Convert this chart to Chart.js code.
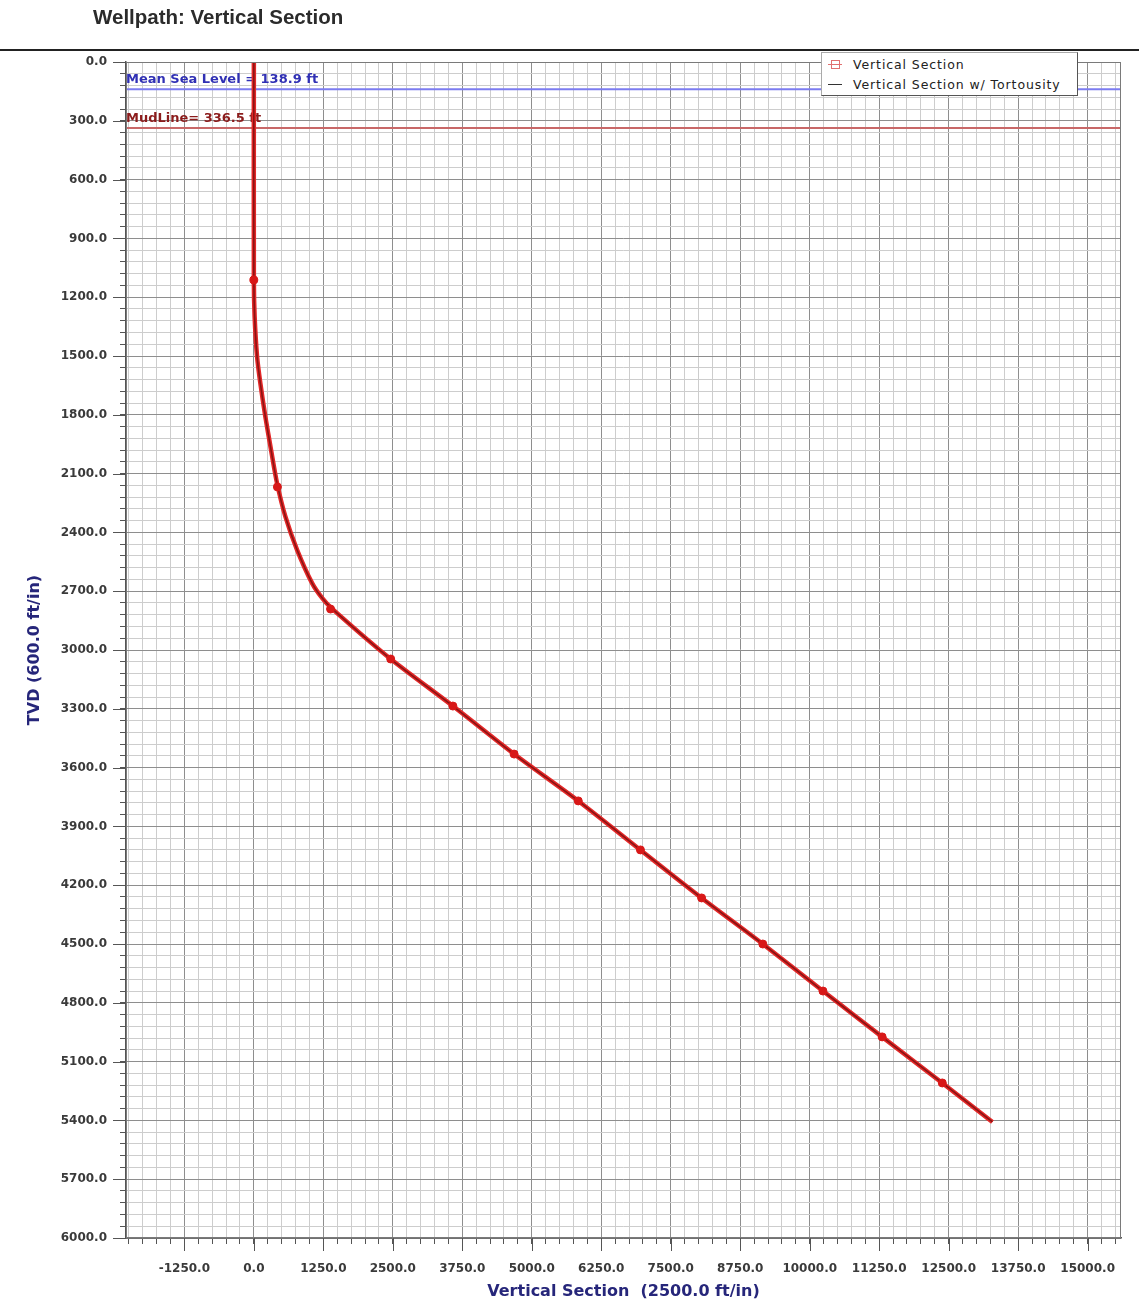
<!DOCTYPE html>
<html>
<head>
<meta charset="utf-8">
<title>Wellpath: Vertical Section</title>
<script src="https://cdn.jsdelivr.net/npm/chart.js@4.4.1/dist/chart.umd.min.js"></script>
<style>
  body{margin:0;background:#fff;}
  #wrap{position:relative;width:1139px;height:1303px;overflow:hidden;background:#fff;}
  #title{position:absolute;left:93px;top:6px;font:bold 20.5px "Liberation Sans",Arial,sans-serif;line-height:22px;color:#2b2b2b;}
  #rule{position:absolute;left:0;top:49px;width:1139px;height:2px;background:#222;}
  #legend{position:absolute;left:821px;top:52px;width:255px;height:41px;background:#fff;
          border:1px solid #aaa;border-right-color:#555;border-bottom-color:#555;
          font:12.5px "DejaVu Sans",sans-serif;letter-spacing:0.9px;color:#222;padding-top:1px;z-index:2;}
  .row{height:20px;display:flex;align-items:center;padding-left:6px;}
  .ico{position:relative;width:14px;height:10px;margin-right:11px;}
  .ico.sq::before{content:"";position:absolute;left:3px;top:1px;width:7px;height:7px;border:1px solid #e07070;}
  .ico.sq::after{content:"";position:absolute;left:0;top:5px;width:14px;height:1px;background:#e07070;}
  .ico.ln::after{content:"";position:absolute;left:0;top:5px;width:14px;height:1px;background:#333;}
  canvas{position:absolute;left:0;top:0;}
</style>
</head>
<body>
<div id="wrap">
  <canvas id="vsChart" width="1139" height="1303"></canvas>
  <div id="title">Wellpath: Vertical Section</div>
  <div id="rule"></div>
  <div id="legend">
    <div class="row"><span class="ico sq"></span><span>Vertical Section</span></div>
    <div class="row"><span class="ico ln"></span><span>Vertical Section w/ Tortousity</span></div>
  </div>
</div>
<script>
/* ===========================
   DATA
=========================== */

// well path: vertical section (ft) vs true vertical depth (ft)
const pathVS  = [0, 0, 14, 58, 117, 207, 310, 418, 568, 779, 1050, 1230, 1411, 2462, 3581, 4682, 5836, 6955, 8055, 9156, 10238, 11303, 12385, 13287];
const pathTVD = [0, 1110, 1299, 1503, 1639, 1810, 1980, 2150, 2320, 2490, 2660, 2735, 2790, 3046, 3286, 3531, 3770, 4020, 4265, 4500, 4740, 4974, 5209, 5408];

// survey station markers
const stationVS  = [0, 424, 1380, 2462, 3581, 4682, 5836, 6955, 8055, 9156, 10238, 11303, 12385];
const stationTVD = [1112, 2168, 2791, 3046, 3286, 3531, 3770, 4020, 4265, 4500, 4740, 4974, 5209];

// reference depths
const mslTVD = 138.9;
const mudLineTVD = 336.5;

// labelled ticks
const vsTicks  = [-1250, 0, 1250, 2500, 3750, 5000, 6250, 7500, 8750, 10000, 11250, 12500, 13750, 15000];
const tvdTicks = [0, 300, 600, 900, 1200, 1500, 1800, 2100, 2400, 2700, 3000, 3300, 3600, 3900, 4200, 4500, 4800, 5100, 5400, 5700, 6000];

// axis ranges and minor divisions
const vsMin = -2300, vsMax = 15600, vsMinor = 250;
const tvdMin = 0, tvdMax = 6000, tvdMinor = 60;

/* ===========================
   HELPERS
=========================== */

const toPoints = (xs, ys) => xs.map((x, i) => ({x, y: ys[i]}));

// minor grid: every division between min and max
function minorTicks(min, max, step){

    const out = [];

    for(let v = Math.ceil(min / step) * step; v <= max + 1e-9; v += step){

        out.push({value: v});

    }

    return out;

}

const isLabelled = (v, list) => list.some(t => Math.abs(t - v) < 1e-6);

const gridColor = list => c => (c.tick && isLabelled(c.tick.value, list)) ? "#8e8e8e" : "#cdcdcd";

/* ===========================
   PLUGIN: line labels, major ticks, frame
=========================== */

const decorations = {

    id: "decorations",

    beforeDatasetsDraw(chart){

        const {ctx, chartArea, scales:{y}} = chart;

        ctx.save();

        ctx.font = 'bold 13px "DejaVu Sans"';

        ctx.textBaseline = "bottom";

        ctx.fillStyle = "#3030b4";

        ctx.fillText("Mean Sea Level = " + mslTVD + " ft", chartArea.left, y.getPixelForValue(mslTVD) - 3);

        ctx.fillStyle = "#8c1c1c";

        ctx.fillText("MudLine= " + mudLineTVD + " ft", chartArea.left, y.getPixelForValue(mudLineTVD) - 3);

        ctx.restore();

    },

    afterDraw(chart){

        const {ctx, chartArea, scales:{x, y}} = chart;

        ctx.save();

        ctx.strokeStyle = "#555";

        ctx.lineWidth = 1;

        ctx.beginPath();

        vsTicks.forEach(v => {

            const px = Math.round(x.getPixelForValue(v)) + 0.5;

            ctx.moveTo(px, chartArea.bottom);

            ctx.lineTo(px, chartArea.bottom + 13);

        });

        tvdTicks.forEach(v => {

            const py = Math.round(y.getPixelForValue(v)) + 0.5;

            ctx.moveTo(chartArea.left - 13, py);

            ctx.lineTo(chartArea.left, py);

        });

        ctx.stroke();

        ctx.strokeStyle = "#7a7a7a";

        ctx.strokeRect(chartArea.left + 0.5, chartArea.top + 0.5, chartArea.right - chartArea.left - 1, chartArea.bottom - chartArea.top - 1);

        ctx.restore();

    }

};

/* ===========================
   CHART
=========================== */

const tickFont = {family: "DejaVu Sans", size: 12, weight: "bold"};

const titleFont = {family: "DejaVu Sans", size: 16, weight: "bold"};

new Chart(

    document.getElementById("vsChart"),

    {

        type: "scatter",

        data: {

            datasets: [

                {

                    label: "Stations",

                    data: toPoints(stationVS, stationTVD),

                    showLine: false,

                    pointRadius: 4,

                    pointBackgroundColor: "#d81818",

                    pointBorderColor: "#d81818"

                },

                {

                    label: "Vertical Section w/ Tortousity",

                    data: toPoints(pathVS, pathTVD),

                    showLine: true,

                    borderColor: "#8a1414",

                    borderWidth: 1.6,

                    tension: 0.25,

                    pointRadius: 0

                },

                {

                    label: "Vertical Section",

                    data: toPoints(pathVS, pathTVD),

                    showLine: true,

                    borderColor: "#e42828",

                    borderWidth: 4.5,

                    tension: 0.25,

                    pointRadius: 0

                },

                {

                    label: "Mean Sea Level",

                    data: toPoints([vsMin, vsMax], [mslTVD, mslTVD]),

                    showLine: true,

                    borderColor: "#7c7cf0",

                    borderWidth: 2,

                    pointRadius: 0

                },

                {

                    label: "Mud Line",

                    data: toPoints([vsMin, vsMax], [mudLineTVD, mudLineTVD]),

                    showLine: true,

                    borderColor: "#c86868",

                    borderWidth: 2,

                    pointRadius: 0

                }

            ]

        },

        options: {

            responsive: false,

            animation: false,

            layout: {

                padding: {left: 0, top: 62, right: 18, bottom: 0}

            },

            plugins: {

                legend: {display: false},

                tooltip: {enabled: false}

            },

            scales: {

                x: {

                    type: "linear",

                    min: vsMin,

                    max: vsMax,

                    afterBuildTicks: s => { s.ticks = minorTicks(vsMin, vsMax, vsMinor); },

                    afterFit: s => { s.height = 65; },

                    ticks: {

                        autoSkip: false,

                        maxRotation: 0,

                        padding: 18,

                        color: "#3a3a3a",

                        font: tickFont,

                        callback: v => isLabelled(v, vsTicks) ? v.toFixed(1) : ""

                    },

                    grid: {

                        color: gridColor(vsTicks),

                        tickColor: "#555",

                        tickLength: 6

                    },

                    border: {color: "#555", width: 1.5},

                    title: {

                        display: true,

                        text: "Vertical Section  (2500.0 ft/in)",

                        color: "#26267a",

                        font: titleFont,

                        padding: {top: 0, bottom: 2}

                    }

                },

                y: {

                    type: "linear",

                    reverse: true,

                    min: tvdMin,

                    max: tvdMax,

                    afterBuildTicks: s => { s.ticks = minorTicks(tvdMin, tvdMax, tvdMinor); },

                    afterFit: s => { s.width = 126; },

                    ticks: {

                        autoSkip: false,

                        padding: 13,

                        color: "#3a3a3a",

                        font: tickFont,

                        callback: v => isLabelled(v, tvdTicks) ? v.toFixed(1) : ""

                    },

                    grid: {

                        color: gridColor(tvdTicks),

                        tickColor: "#555",

                        tickLength: 6

                    },

                    border: {color: "#555", width: 1.5},

                    title: {

                        display: true,

                        text: "TVD (600.0 ft/in)",

                        color: "#26267a",

                        font: titleFont,

                        padding: {top: 25, bottom: 0}

                    }

                }

            }

        },

        plugins: [decorations]

    }

);
</script>
</body>
</html>
